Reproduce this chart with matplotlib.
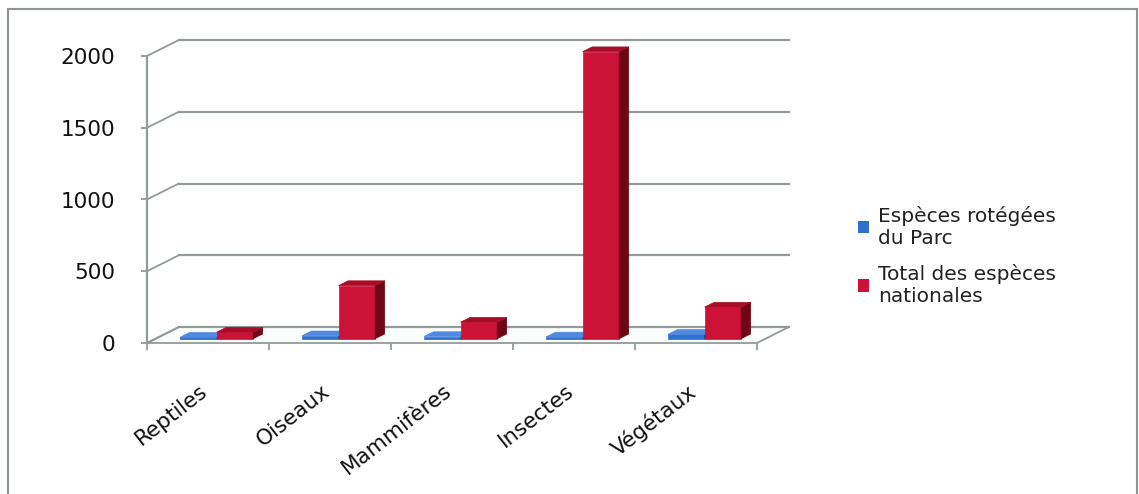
import matplotlib.pyplot as plt
from matplotlib.patches import Polygon, Patch
from matplotlib.lines import Line2D
from matplotlib.transforms import ScaledTranslation

categories = ['Reptiles', 'Oiseaux', 'Mammifères', 'Insectes', 'Végétaux']
parc_values = [10, 20, 15, 12, 30]
national_values = [45, 370, 115, 2000, 220]
y_ticks = [0, 500, 1000, 1500, 2000]
series_labels = ['Espèces rotégées\ndu Parc', 'Total des espèces\nnationales']

# oblique depth of the plot box (category units, value units)
DEPTH_X = 0.26
DEPTH_Y = 111
BAR_W = 0.30
BAR_D0, BAR_D1 = 0.27, 0.57

GRID = '#929b98'
BLUE = ('#2f6fd0', '#4f8ae0', '#1d4488')   # front, top, side
RED = ('#cc1236', '#a80c26', '#6e0614')


def proj(x, v, d):
    return (x + d * DEPTH_X, v + d * DEPTH_Y)


def draw_bar(ax, x0, h, colors):
    front, top, side = colors
    x1 = x0 + BAR_W
    faces = [
        ([proj(x0, 0, BAR_D0), proj(x1, 0, BAR_D0), proj(x1, h, BAR_D0), proj(x0, h, BAR_D0)], front),
        ([proj(x1, 0, BAR_D0), proj(x1, 0, BAR_D1), proj(x1, h, BAR_D1), proj(x1, h, BAR_D0)], side),
        ([proj(x0, h, BAR_D0), proj(x1, h, BAR_D0), proj(x1, h, BAR_D1), proj(x0, h, BAR_D1)], top),
    ]
    for pts, c in faces:
        ax.add_patch(Polygon(pts, closed=True, facecolor=c, edgecolor=c, lw=0.5, zorder=3))


def main():
    fig = plt.figure(figsize=(11.39, 4.94), dpi=100)
    W, H = 1139, 494
    ax = fig.add_axes([147 / W, 1 - 343 / H, 640 / W, 302 / H])
    n = len(categories)
    ax.set_xlim(0, 640 / 122)
    ax.set_ylim(0, 302 / 0.1435)
    for s in ax.spines.values():
        s.set_visible(False)

    # floor and back wall grid
    ax.add_patch(Polygon([proj(0, 0, 0), proj(n, 0, 0), proj(n, 0, 1), proj(0, 0, 1)],
                         closed=True, facecolor='#fbfdfd', edgecolor=GRID, lw=1.3,
                         zorder=1, clip_on=False))
    for v in y_ticks:
        bx, by = proj(0, v, 1)
        ex, _ = proj(n, v, 1)
        ax.plot([0, bx], [v, by], color=GRID, lw=1.3, zorder=1, clip_on=False)
        ax.plot([bx, ex], [by, by], color=GRID, lw=1.6, zorder=1, clip_on=False)
    ax.plot([0, 0], [0, y_ticks[-1]], color=GRID, lw=1.6, zorder=2, clip_on=False)

    for i in range(n):
        draw_bar(ax, i + 0.5 - BAR_W, parc_values[i], BLUE)
        draw_bar(ax, i + 0.5, national_values[i], RED)

    ax.set_yticks(y_ticks)
    ax.set_yticklabels([str(v) for v in y_ticks])
    ax.tick_params(axis='y', length=4, width=1.3, color=GRID, pad=19, labelsize=15.5, labelcolor='#111111')
    ax.set_xticks(range(n + 1), minor=True)
    ax.tick_params(axis='x', which='minor', length=5, width=1.3, color=GRID)
    ax.set_xticks([i + 0.5 for i in range(n)])
    ax.set_xticklabels(categories, rotation=38, ha='right', rotation_mode='anchor', fontsize=15.5)
    ax.tick_params(axis='x', which='major', length=0, pad=27, labelcolor='#111111')
    shift = ScaledTranslation(-9 / 100, 0, fig.dpi_scale_trans)
    for lab in ax.get_xticklabels():
        lab.set_transform(lab.get_transform() + shift)

    handles = [Patch(facecolor=BLUE[0]), Patch(facecolor=RED[0])]
    leg = fig.legend(handles, series_labels, loc='upper left', bbox_to_anchor=(858 / W, 1 - 206 / H),
                     frameon=False, fontsize=14.5, handlelength=0.55, handleheight=0.55,
                     handletextpad=0.45, labelspacing=0.8, borderpad=0, borderaxespad=0,
                     labelcolor='#222222')
    for t in leg.get_texts():
        t.set_linespacing(1.2)

    # outer chart frame, open at the bottom
    frame = '#8c9593'
    fig.add_artist(Line2D([8 / W, 8 / W], [1 - 9 / H, 0], color=frame, lw=1.5))
    fig.add_artist(Line2D([8 / W, 1137 / W], [1 - 9 / H, 1 - 9 / H], color=frame, lw=1.5))
    fig.add_artist(Line2D([1137 / W, 1137 / W], [1 - 9 / H, 0], color=frame, lw=1.5))

    fig.savefig('out.png', dpi=100)


if __name__ == '__main__':
    main()
